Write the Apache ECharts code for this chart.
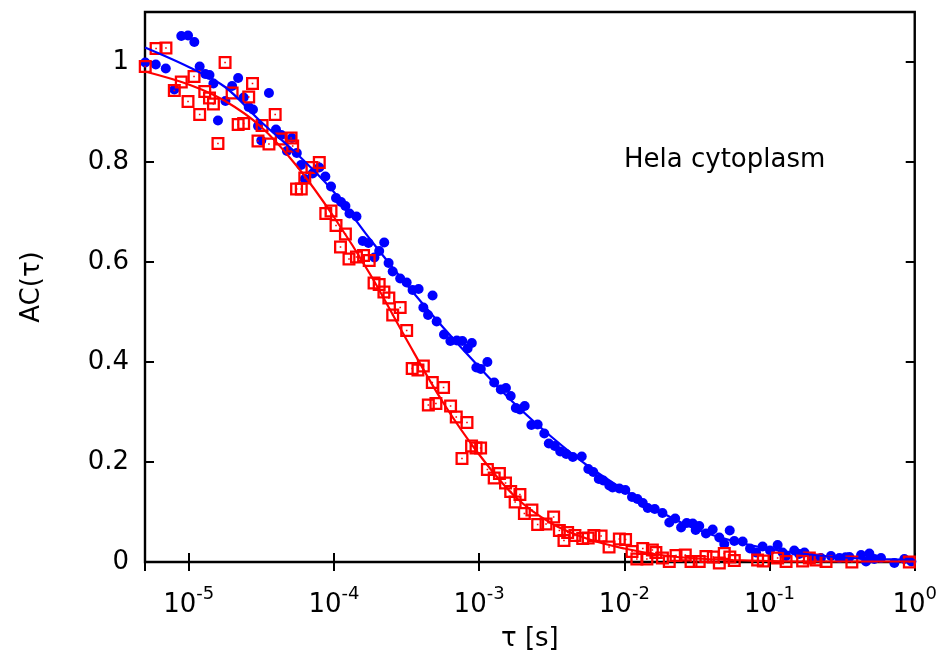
<!DOCTYPE html>
<html>
<head>
<meta charset="utf-8">
<script src="https://cdn.jsdelivr.net/npm/echarts@6/dist/echarts.min.js"></script>
<style>
html,body{margin:0;padding:0;background:#fff;}
#chart{width:940px;height:657px;}
</style>
</head>
<body>
<div id="chart"></div>
<script>
// ---- data (tau in seconds, AC dimensionless) ----
const blueTau = [5.02e-6,5.93e-6,6.95e-6,7.96e-6,8.89e-6,9.89e-6,1.093e-5,1.19e-5,1.30e-5,1.39e-5,
1.48e-5,1.59e-5,1.79e-5,1.99e-5,2.19e-5,2.39e-5,2.59e-5,2.77e-5,3.00e-5,3.16e-5,
3.57e-5,3.99e-5,4.34e-5,4.75e-5,5.14e-5,5.55e-5,5.94e-5,6.30e-5,7.13e-5,7.93e-5,
8.73e-5,9.55e-5,1.034e-4,1.12e-4,1.20e-4,1.28e-4,1.43e-4,1.58e-4,1.73e-4,1.90e-4,
2.05e-4,2.22e-4,2.38e-4,2.54e-4,2.86e-4,3.17e-4,3.48e-4,3.83e-4,4.13e-4,4.45e-4,
4.78e-4,5.10e-4,5.73e-4,6.34e-4,7.02e-4,7.66e-4,8.33e-4,8.91e-4,9.57e-4,1.027e-3,
1.14e-3,1.27e-3,1.41e-3,1.53e-3,1.65e-3,1.79e-3,1.91e-3,2.06e-3,2.29e-3,2.53e-3,
2.81e-3,3.02e-3,3.32e-3,3.62e-3,3.98e-3,4.42e-3,5.09e-3,5.65e-3,6.11e-3,6.67e-3,
7.16e-3,7.88e-3,8.30e-3,9.24e-3,1.016e-2,1.13e-2,1.23e-2,1.34e-2,1.45e-2,1.62e-2,
1.83e-2,2.04e-2,2.24e-2,2.46e-2,2.69e-2,2.96e-2,3.10e-2,3.28e-2,3.65e-2,4.06e-2,
4.51e-2,4.88e-2,5.32e-2,5.72e-2,6.53e-2,7.34e-2,8.07e-2,8.96e-2,0.1008,0.1137,
0.123,0.130,0.148,0.160,0.174,0.198,0.226,0.265,0.303,0.334,
0.355,0.427,0.462,0.487,0.527,0.586,0.724,0.848,0.949];
const blueAC = [0.999,0.995,0.987,0.945,1.052,1.053,1.040,0.991,0.976,0.974,
0.957,0.883,0.922,0.952,0.968,0.929,0.910,0.905,0.872,0.843,
0.938,0.865,0.854,0.822,0.848,0.818,0.794,0.766,0.777,0.789,
0.771,0.751,0.728,0.720,0.712,0.697,0.691,0.642,0.638,0.609,
0.622,0.639,0.598,0.581,0.567,0.559,0.544,0.546,0.509,0.494,
0.533,0.481,0.455,0.442,0.443,0.442,0.427,0.438,0.389,0.386,
0.400,0.359,0.345,0.348,0.332,0.308,0.305,0.312,0.274,0.275,
0.257,0.237,0.232,0.221,0.216,0.210,0.211,0.186,0.180,0.166,
0.163,0.153,0.149,0.147,0.144,0.130,0.126,0.118,0.108,0.106,
0.098,0.079,0.087,0.069,0.078,0.077,0.064,0.072,0.057,0.065,
0.049,0.036,0.063,0.042,0.041,0.027,0.019,0.031,0.023,0.034,
0.019,0.012,0.023,0.016,0.019,0.008,0.008,0.012,0.008,0.0095,
0.010,0.014,0.001,0.017,0.006,0.008,-0.002,0.006,0.001];

const redTau = [5.02e-6,5.96e-6,6.97e-6,7.96e-6,8.89e-6,9.89e-6,1.088e-5,1.19e-5,1.29e-5,1.39e-5,
1.48e-5,1.59e-5,1.78e-5,1.99e-5,2.19e-5,2.39e-5,2.59e-5,2.75e-5,3.00e-5,3.20e-5,
3.57e-5,3.94e-5,4.34e-5,5.07e-5,5.20e-5,5.53e-5,5.96e-5,6.30e-5,7.06e-5,7.93e-5,
8.79e-5,9.55e-5,1.034e-4,1.11e-4,1.20e-4,1.27e-4,1.43e-4,1.60e-4,1.75e-4,1.89e-4,
2.05e-4,2.21e-4,2.39e-4,2.54e-4,2.86e-4,3.17e-4,3.46e-4,3.79e-4,4.13e-4,4.47e-4,
4.76e-4,5.04e-4,5.69e-4,6.36e-4,6.96e-4,7.62e-4,8.25e-4,8.87e-4,9.52e-4,1.024e-3,
1.14e-3,1.27e-3,1.38e-3,1.52e-3,1.65e-3,1.77e-3,1.91e-3,2.05e-3,2.31e-3,2.53e-3,
2.89e-3,3.26e-3,3.57e-3,3.84e-3,4.07e-3,4.57e-3,5.17e-3,5.64e-3,6.17e-3,6.92e-3,
7.85e-3,9.24e-3,1.02e-2,1.13e-2,1.22e-2,1.34e-2,1.43e-2,1.56e-2,1.65e-2,1.83e-2,
2.04e-2,2.27e-2,2.63e-2,2.88e-2,3.28e-2,3.65e-2,4.10e-2,4.51e-2,4.88e-2,5.33e-2,
5.72e-2,8.28e-2,9.06e-2,0.1137,0.130,0.169,0.188,0.209,0.245,0.369,0.918];
const redAC = [0.991,1.027,1.028,0.943,0.960,0.921,0.971,0.895,0.941,0.928,
0.916,0.837,0.999,0.938,0.875,0.877,0.930,0.957,0.842,0.873,
0.836,0.895,0.846,0.848,0.832,0.746,0.746,0.768,0.789,0.799,
0.697,0.702,0.673,0.630,0.656,0.606,0.610,0.613,0.603,0.558,
0.555,0.540,0.528,0.494,0.509,0.463,0.387,0.384,0.392,0.314,
0.359,0.317,0.349,0.312,0.290,0.207,0.279,0.232,0.228,0.228,
0.185,0.168,0.177,0.158,0.141,0.120,0.135,0.097,0.104,0.075,
0.076,0.090,0.063,0.043,0.059,0.053,0.047,0.048,0.053,0.052,
0.030,0.046,0.045,0.021,0.006,0.027,0.006,0.024,0.019,0.008,
0.001,0.013,0.014,0.001,0.001,0.011,0.010,-0.002,0.017,0.010,
0.003,0.004,0.002,0.008,0.001,0.002,0.008,0.004,0.001,0.000,0.000];

// fitted curves
const fitTau = [5e-6,1e-5,1.78e-5,3.16e-5,5.62e-5,1e-4,1.78e-4,3.16e-4,5.62e-4,1e-3,1.78e-3,
3.16e-3,5.62e-3,1e-2,1.78e-2,3.16e-2,5.62e-2,0.1,0.178,0.316,0.562,1];
const blueFitAC = [1.029,0.990,0.950,0.880,0.815,0.740,0.645,0.555,0.470,0.390,0.315,
0.250,0.192,0.144,0.100,0.065,0.042,0.026,0.016,0.009,0.006,0.004];
const redFitAC = [0.981,0.955,0.922,0.870,0.790,0.690,0.575,0.445,0.320,0.215,0.130,
0.077,0.046,0.027,0.014,0.007,0.004,0.002,0.001,0.001,0.001,0.001];

const xTickExponents = [-5,-4,-3,-2,-1,0];
const yTickLabels = ['0','0.2','0.4','0.6','0.8','1'];
const annotation = 'Hela cytoplasm';

const zip = (a,b) => a.map((v,i)=>[v,b[i]]);
const FONT = 'DejaVu Sans';
const BLUE = '#0000ff', RED = '#ff0000';
const redSymbol = 'path://M0,0H13V13H0Z M2.3,2.3V10.7H10.7V2.3Z M5.7,5.7H7.3V7.3H5.7Z';

const chart = echarts.init(document.getElementById('chart'), null, {renderer:'canvas'});

const xLabelFmt = v => {
  const e = Math.log10(v);
  const r = Math.round(e);
  if (Math.abs(e - r) > 1e-6 || xTickExponents.indexOf(r) < 0) return '';
  return '{b|10}{s|' + r + '}';
};
const yLabelFmt = v => {
  const k = Math.round(v*5);
  if (Math.abs(v*5 - k) > 1e-6 || k < 0 || k >= yTickLabels.length) return '';
  return yTickLabels[k];
};

const tickStyle = {show:true, inside:true, length:9, lineStyle:{color:'#000', width:2}};

chart.setOption({
  animation:false,
  backgroundColor:'#fff',
  grid:{left:145, right:24.6, top:12, bottom:91.5, show:true, borderColor:'#000', borderWidth:2.4, backgroundColor:'transparent'},
  xAxis:[{
    type:'log', logBase:10, min:5e-6, max:1, position:'bottom',
    axisLine:{show:false}, splitLine:{show:false}, minorTick:{show:false},
    axisTick:tickStyle,
    axisLabel:{show:true, margin:26, showMinLabel:false, formatter:xLabelFmt, color:'#000',
      rich:{
        b:{fontFamily:FONT, fontSize:26, color:'#000', verticalAlign:'bottom', lineHeight:30},
        s:{fontFamily:FONT, fontSize:18, color:'#000', verticalAlign:'bottom', lineHeight:18, padding:[0,0,15,0]}
      }},
    name:'τ [s]', nameLocation:'middle', nameGap:64,
    nameTextStyle:{fontFamily:FONT, fontSize:26, color:'#000'}
  },{
    type:'log', logBase:10, min:5e-6, max:1, position:'top',
    axisLine:{show:false}, splitLine:{show:false},
    axisTick:tickStyle, axisLabel:{show:false}
  }],
  yAxis:[{
    type:'value', min:0, max:1.1, interval:0.2, position:'left',
    axisLine:{show:false}, splitLine:{show:false},
    axisTick:tickStyle,
    axisLabel:{show:true, margin:16, showMaxLabel:false, formatter:yLabelFmt, color:'#000', fontFamily:FONT, fontSize:26},
    name:'AC(τ)', nameLocation:'middle', nameGap:100, nameRotate:90,
    nameTextStyle:{fontFamily:FONT, fontSize:26, color:'#000'}
  },{
    type:'value', min:0, max:1.1, interval:0.2, position:'right',
    axisLine:{show:false}, splitLine:{show:false},
    axisTick:tickStyle, axisLabel:{show:false}
  }],
  graphic:[{
    type:'text', left:624, top:147,
    style:{text:annotation, fontFamily:FONT, fontSize:26, fill:'#000'}
  }],
  series:[
    {type:'scatter', name:'blue data', xAxisIndex:0, yAxisIndex:0, data:zip(blueTau, blueAC),
     symbol:'circle', symbolSize:10, clip:false, itemStyle:{color:BLUE, opacity:1}, z:2},
    {type:'scatter', name:'red data', xAxisIndex:0, yAxisIndex:0, data:zip(redTau, redAC),
     symbol:redSymbol, symbolSize:13, clip:false, itemStyle:{color:RED, opacity:1}, z:3},
    {type:'line', name:'blue fit', xAxisIndex:0, yAxisIndex:0, data:zip(fitTau, blueFitAC),
     showSymbol:false, smooth:0.35, lineStyle:{color:BLUE, width:2.2}, z:4},
    {type:'line', name:'red fit', xAxisIndex:0, yAxisIndex:0, data:zip(fitTau, redFitAC),
     showSymbol:false, smooth:0.35, lineStyle:{color:RED, width:2.2}, z:5}
  ]
});
</script>
</body>
</html>
